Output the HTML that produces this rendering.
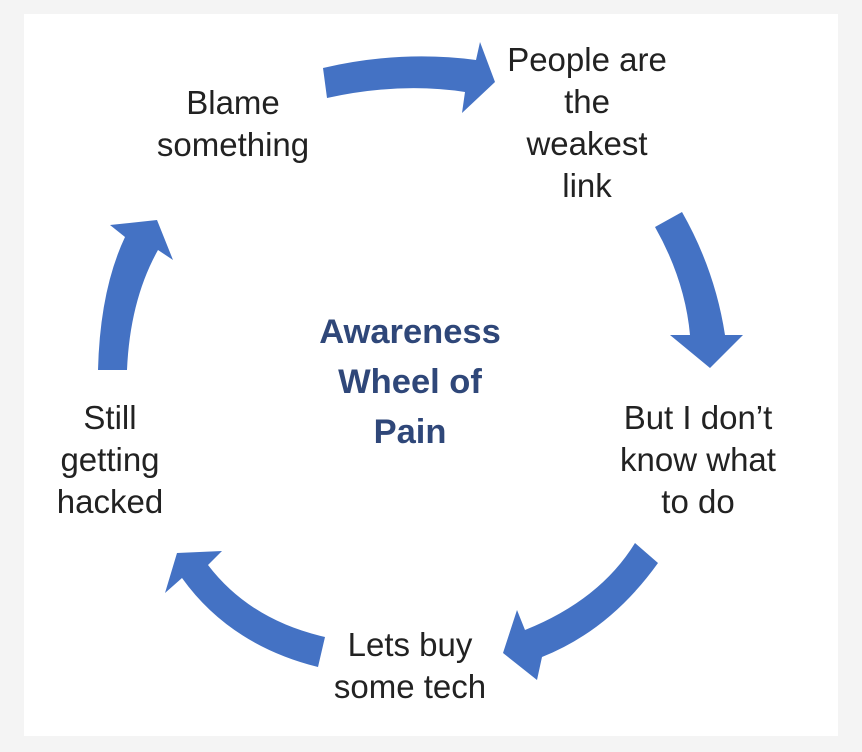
<!DOCTYPE html>
<html><head><meta charset="utf-8"><style>
html,body{margin:0;padding:0;}
body{width:862px;height:752px;background:#f4f4f4;position:relative;overflow:hidden;font-family:"Liberation Sans",sans-serif;}
.inner{position:absolute;left:24px;top:14px;width:814px;height:722px;background:#fff;}
.t{position:absolute;text-align:center;font-size:33px;line-height:42px;color:#222;white-space:nowrap;transform:translateX(-50%);}
.title{position:absolute;text-align:center;font-size:34.5px;line-height:50px;font-weight:bold;color:#2f4779;white-space:nowrap;transform:translateX(-50%);}
svg{position:absolute;left:0;top:0;}
</style></head><body>
<div class="inner"></div>
<svg width="862" height="752">
<g fill="#4472c4">
<path d="M323,68 Q400,50 476,60 L480,42 L495,82 L462,113 L465,92 Q400,82 327,98 Z"/>
<path d="M655,227 L682,212 Q715,270 725,335 L743,335 L710,368 L670,335 L690,335 Q685,280 655,227 Z"/>
<path d="M635,543 L658,563 Q610,630 542,657 L537,680 L503,653 L517,610 L525,630 Q600,600 635,543 Z"/>
<path d="M325,637 Q250,620 208,565 L222,551 L177,553 L165,593 L182,578 Q230,645 318,667 Z"/>
<path d="M98,370 Q100,290 125,237 L110,225 L157,220 L173,260 L158,250 Q130,300 127,370 Z"/>
</g>
</svg>
<div class="t" style="left:233px;top:82px;">Blame<br>something</div>
<div class="t" style="left:587px;top:39px;">People are<br>the<br>weakest<br>link</div>
<div class="t" style="left:698px;top:397px;">But I don’t<br>know what<br>to do</div>
<div class="t" style="left:410px;top:624px;">Lets buy<br>some tech</div>
<div class="t" style="left:110px;top:397px;">Still<br>getting<br>hacked</div>
<div class="title" style="left:410px;top:307px;">Awareness<br>Wheel of<br>Pain</div>
</body></html>
